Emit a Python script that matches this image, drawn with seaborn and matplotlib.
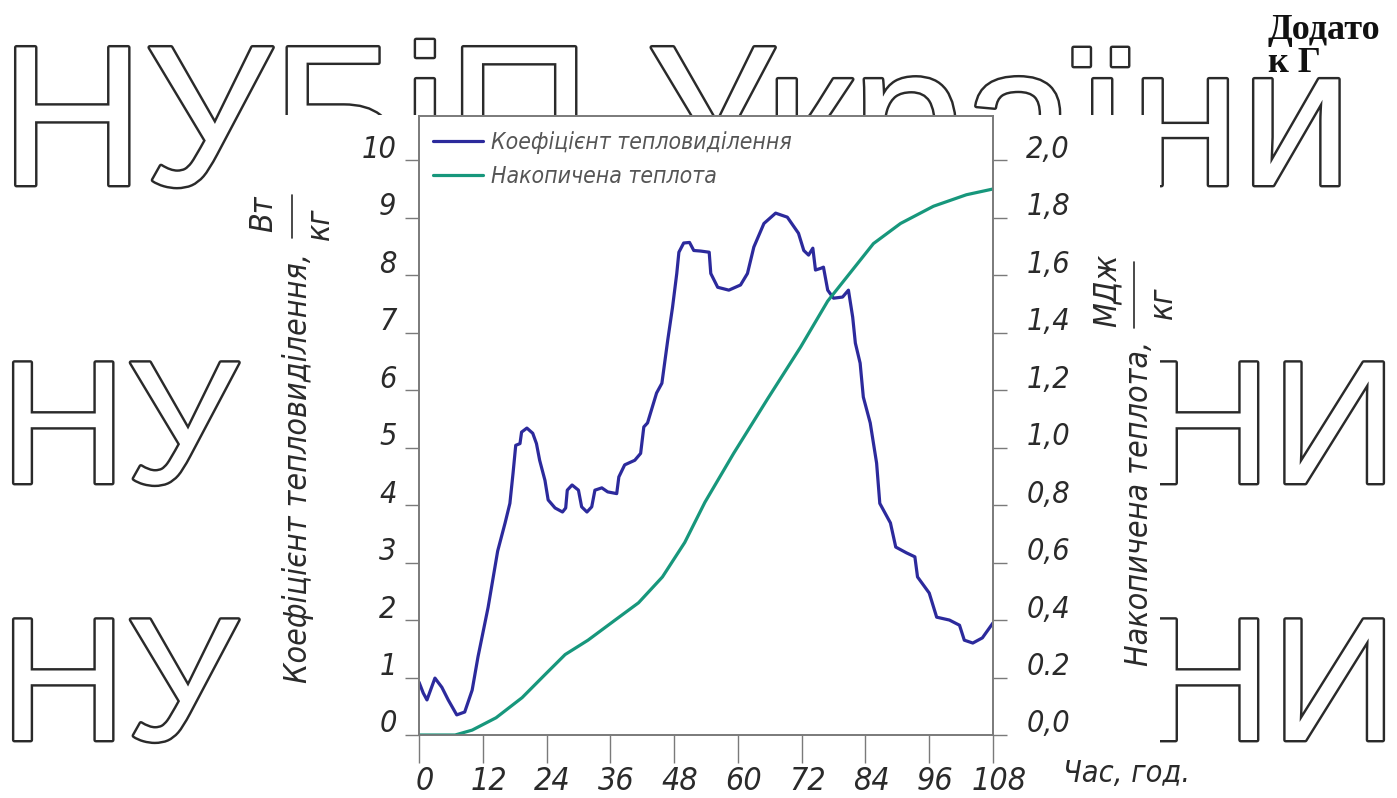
import numpy as np
import pandas as pd
import matplotlib
matplotlib.use("Agg")
import matplotlib.pyplot as plt
import matplotlib.patheffects as pe
from matplotlib.transforms import ScaledTranslation
from matplotlib.lines import Line2D
from matplotlib.patches import Rectangle
import seaborn as sns

# ---------------- data ----------------
hours_coef = [0, 0.8, 1.5, 3.0, 4.3, 5.5, 7.1, 8.6, 10.0, 11.1, 13.0, 14.8, 16.2, 17.1, 17.7,
              18.2, 19.0, 19.3, 20.3, 21.4, 22.1, 22.7, 23.7, 24.3, 25.6, 27.0, 27.6, 27.9,
              28.8, 30.0, 30.6, 31.6, 32.5, 33.1, 34.4, 35.5, 37.2, 37.6, 38.7, 40.6, 41.7,
              42.3, 43.0, 44.7, 45.7, 46.8, 47.7, 48.5, 48.9, 49.8, 50.9, 51.7, 53.0, 54.6,
              54.9, 56.2, 58.3, 60.5, 61.8, 63.0, 64.9, 67.1, 69.3, 71.4, 72.4, 73.3, 74.1,
              74.6, 75.6, 76.1, 76.9, 78.0, 79.7, 80.8, 81.6, 82.1, 83.0, 83.6, 84.9, 86.1,
              86.7, 88.7, 89.7, 91.7, 93.3, 93.8, 96.0, 97.4, 99.8, 101.7, 102.6, 104.2,
              106.0, 108.0]
coef_values = [0.92, 0.73, 0.61, 0.99, 0.83, 0.61, 0.35, 0.40, 0.78, 1.36, 2.22, 3.20, 3.69,
               4.03, 4.56, 5.04, 5.07, 5.27, 5.34, 5.25, 5.07, 4.78, 4.43, 4.09, 3.95, 3.88,
               3.95, 4.26, 4.35, 4.26, 3.97, 3.88, 3.97, 4.26, 4.30, 4.23, 4.20, 4.49, 4.70,
               4.78, 4.90, 5.36, 5.43, 5.95, 6.12, 6.87, 7.44, 8.03, 8.40, 8.56, 8.57, 8.43,
               8.42, 8.40, 8.03, 7.79, 7.74, 7.83, 8.03, 8.49, 8.90, 9.08, 9.01, 8.73, 8.43,
               8.35, 8.47, 8.09, 8.12, 8.14, 7.74, 7.60, 7.62, 7.74, 7.27, 6.82, 6.47, 5.88,
               5.43, 4.73, 4.03, 3.69, 3.27, 3.17, 3.10, 2.75, 2.47, 2.05, 2.00, 1.91, 1.65,
               1.60, 1.69, 1.95]

hours_heat = [0, 6.8, 10.0, 14.5, 19.4, 23.7, 27.5, 31.8, 36.9, 41.3, 45.8, 50.0, 53.8,
              59.2, 65.6, 71.8, 76.9, 81.2, 85.5, 90.6, 96.8, 103.0, 108.0]
heat_values = [0.0, 0.0, 0.017, 0.06, 0.13, 0.21, 0.28, 0.33, 0.40, 0.46, 0.55, 0.67, 0.81,
               0.98, 1.17, 1.35, 1.51, 1.61, 1.71, 1.78, 1.84, 1.88, 1.90]

x_ticks = [0, 12, 24, 36, 48, 60, 72, 84, 96, 108]
x_tick_labels = ["0", "12", "24", "36", "48", "60", "72", "84", "96", "108"]
left_ticks = [0, 1, 2, 3, 4, 5, 6, 7, 8, 9, 10]
left_tick_labels = ["0", "1", "2", "3", "4", "5", "6", "7", "8", "9", "10"]
right_ticks = [0.0, 0.2, 0.4, 0.6, 0.8, 1.0, 1.2, 1.4, 1.6, 1.8, 2.0]
right_tick_labels = ["0,0", "0.2", "0,4", "0,6", "0,8", "1,0", "1,2", "1,4", "1,6", "1,8", "2,0"]

label_coef = "Коефіцієнт тепловиділення"
label_heat = "Накопичена теплота"

# ---------------- style ----------------
sns.set_theme(style="white")
plt.rcParams["font.family"] = ["DejaVu Sans"]
plt.rcParams["font.stretch"] = "condensed"

BLUE = "#2c2a9c"
TEAL = "#17977c"
SPINE = "#7a7a7a"
TXT = "#2a2a2a"

W, H = 1397, 798
fig = plt.figure(figsize=(W / 100, H / 100), dpi=100)
fig.patch.set_facecolor("white")

# watermark (outlined letters, behind the chart area)
wm_kw = dict(family=["Liberation Sans", "DejaVu Sans"], stretch="normal", color="white",
             zorder=-10, path_effects=[pe.withStroke(linewidth=3.5, foreground="#2a2a2a")],
             va="baseline")
fig.text(0.0, 1 - 185 / H, "НУБіП України", fontsize=144, ha="left", **wm_kw)
fig.text(0.0, 1 - 483 / H, "НУ", fontsize=126, ha="left", **wm_kw)
fig.text(1.0, 1 - 483 / H, "НИ", fontsize=126, ha="right", **wm_kw)
fig.text(0.0, 1 - 740 / H, "НУ", fontsize=126, ha="left", **wm_kw)
fig.text(1.0, 1 - 740 / H, "НИ", fontsize=126, ha="right", **wm_kw)
# white panel of the drawing that hides the watermark behind the chart
fig.add_artist(Rectangle((245 / W, 0), (1160 - 245) / W, 1 - 115 / H,
                         transform=fig.transFigure, facecolor="white", edgecolor="none",
                         zorder=-5))

fig.text(1268 / W, 1 - 14 / H, "Додато\nк Г", family=["Liberation Serif", "DejaVu Serif"],
         stretch="normal", fontweight="bold", fontsize=26, ha="left", va="top",
         linespacing=1.0, color="#111111", zorder=5)

ax = fig.add_axes([419 / W, 1 - 735 / H, (993 - 419) / W, (735 - 116) / H])
ax.set_facecolor("white")
ax2 = ax.twinx()

sns.lineplot(x=hours_coef, y=coef_values, ax=ax, color=BLUE, lw=2.3, sort=False,
             legend=False)
sns.lineplot(x=hours_heat, y=heat_values, ax=ax2, color=TEAL, lw=2.3, sort=False,
             legend=False)

ax.set_xlim(0, 108)
ax.set_ylim(0, 10.77)
ax2.set_ylim(0, 2.154)
ax.set_xlabel("")
ax.set_ylabel("")
ax2.set_ylabel("")

ax.set_xticks(x_ticks)
ax.set_xticklabels(x_tick_labels, fontstyle="italic", fontsize=23, color=TXT)
ax.set_yticks(left_ticks)
ax.set_yticklabels(left_tick_labels, fontstyle="italic", fontsize=22, color=TXT)
ax2.set_yticks(right_ticks)
ax2.set_yticklabels(right_tick_labels, fontstyle="italic", fontsize=22, color=TXT)

ax.tick_params(axis="x", bottom=True, direction="out", length=20, width=1.0,
               color=SPINE, pad=2)
ax.tick_params(axis="y", left=True, direction="out", length=10, width=1.0,
               color=SPINE, pad=6)
ax2.tick_params(axis="y", right=True, left=False, direction="out", length=10, width=1.0,
                color=SPINE, pad=14)

for a in (ax, ax2):
    for s in a.spines.values():
        s.set_color(SPINE)
        s.set_linewidth(1.2)

up = ScaledTranslation(0, 14 / 100, fig.dpi_scale_trans)
for lbl in ax.get_yticklabels() + ax2.get_yticklabels():
    lbl.set_transform(lbl.get_transform() + up)
right_shift = ScaledTranslation(6 / 100, 0, fig.dpi_scale_trans)
for lbl in ax.get_xticklabels():
    lbl.set_transform(lbl.get_transform() + right_shift)

# legend
h1 = ax.get_lines()[0]
h2 = ax2.get_lines()[0]
leg = ax2.legend([h1, h2], [label_coef, label_heat], loc="upper left",
                 bbox_to_anchor=(14 / 574, 1 - 15 / 619), frameon=False, fontsize=16.5,
                 handlelength=2.2, handletextpad=0.35, labelspacing=0.5,
                 borderpad=0, borderaxespad=0)
for t in leg.get_texts():
    t.set_fontstyle("italic")
    t.set_color("#555555")

# axis titles
lab_kw = dict(rotation=90, fontstyle="italic", color=TXT, ha="center", va="center")
fig.text(298 / W, 1 - 468 / H, "Коефіцієнт тепловиділення,", fontsize=23, **lab_kw)
fig.text(264 / W, 1 - 214 / H, "Вт", fontsize=23, **lab_kw)
fig.text(320 / W, 1 - 224 / H, "кг", fontsize=23, **lab_kw)
fig.add_artist(Line2D([292 / W, 292 / W], [1 - 195 / H, 1 - 238 / H],
                      transform=fig.transFigure, color=TXT, lw=1.2))

fig.text(1139 / W, 1 - 503 / H, "Накопичена теплота,", fontsize=23, **lab_kw)
fig.text(1107 / W, 1 - 290 / H, "МДж", fontsize=23, **lab_kw)
fig.text(1163 / W, 1 - 303 / H, "кг", fontsize=23, **lab_kw)
fig.add_artist(Line2D([1134 / W, 1134 / W], [1 - 262 / H, 1 - 328 / H],
                      transform=fig.transFigure, color=TXT, lw=1.2))

fig.text(1127 / W, 1 - 774 / H, "Час, год.", fontsize=22, fontstyle="italic", color=TXT,
         ha="center", va="center")

fig.savefig("out.png", dpi=100, facecolor="white")
